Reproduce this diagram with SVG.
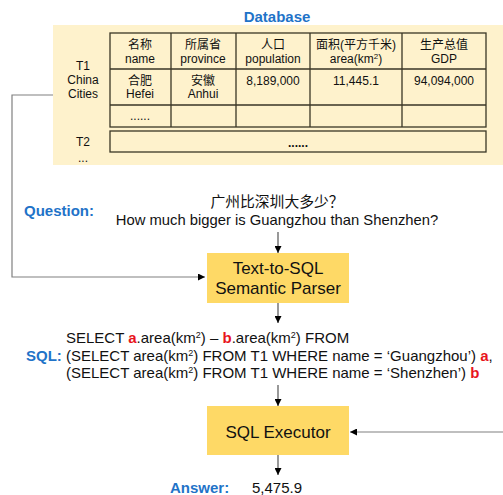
<svg xmlns="http://www.w3.org/2000/svg" width="503" height="495" viewBox="0 0 503 495">
<defs>
<marker id="ah" viewBox="0 0 10 10" refX="10" refY="5" markerWidth="7" markerHeight="7" orient="auto" markerUnits="userSpaceOnUse"><path d="M0,0 L10,5 L0,10 z" fill="#000"/></marker>
<style>
text{font-family:"Liberation Sans","Noto Sans CJK SC",sans-serif;fill:#111}
.t{font-size:12px;text-anchor:middle}
.lbl{font-size:15px;font-weight:bold;fill:#1F73C8}
.q{font-size:14.8px;text-anchor:middle}
.sql{font-size:15px}
.red{fill:#E8141C;font-weight:bold}
.box{fill:#FED966}
.grid{fill:none;stroke:#3A3626;stroke-width:1.3}
.conn{fill:none;stroke:#808080;stroke-width:1.2}
.arr{fill:none;stroke:#444;stroke-width:1.1;marker-end:url(#ah)}
.bt{font-size:17px;text-anchor:middle}
</style>
</defs>
<rect width="503" height="495" fill="#fff"/>
<g id="database">
<text class="lbl" x="277" y="22" text-anchor="middle">Database</text>
<rect x="53" y="25" width="450" height="140" fill="#FEF2CC"/>
<rect class="grid" x="110" y="33" width="376" height="94"/>
<path class="grid" d="M110,69H486M110,105H486M171,33V127M236,33V127M310,33V127M402,33V127"/>
<rect class="grid" x="110" y="131" width="376" height="21"/>
<text class="t" x="83" y="70">T1</text>
<text class="t" x="83" y="84">China</text>
<text class="t" x="83" y="98">Cities</text>
<text class="t" x="83" y="146">T2</text>
<text class="t" x="83" y="162">...</text>
<text class="t" x="140" y="49">名称</text><text class="t" x="140" y="63">name</text>
<text class="t" x="203" y="49">所属省</text><text class="t" x="203" y="63">province</text>
<text class="t" x="273" y="49">人口</text><text class="t" x="273" y="63">population</text>
<text class="t" x="356" y="49">面积(平方千米)</text><text class="t" x="356" y="63">area(km<tspan font-size="8" dy="-4">2</tspan><tspan dy="4">)</tspan></text>
<text class="t" x="444" y="49">生产总值</text><text class="t" x="444" y="63">GDP</text>
<text class="t" x="140" y="85">合肥</text><text class="t" x="140" y="98">Hefei</text>
<text class="t" x="203" y="85">安徽</text><text class="t" x="203" y="98">Anhui</text>
<text class="t" x="273" y="85">8,189,000</text>
<text class="t" x="356" y="85">11,445.1</text>
<text class="t" x="444" y="85">94,094,000</text>
<text class="t" x="140" y="120">......</text>
<text class="t" x="298" y="147" font-weight="bold">......</text>
</g>
<g id="question">
<text class="lbl" x="24" y="216">Question:</text>
<text class="q" x="277" y="207">广州比深圳大多少？</text>
<text class="q" x="277" y="225">How much bigger is Guangzhou than Shenzhen?</text>
</g>
<g id="parser">
<rect class="box" x="207" y="253" width="142" height="50"/>
<text class="bt" x="278" y="274">Text-to-SQL</text>
<text class="bt" x="278" y="294">Semantic Parser</text>
</g>
<g id="sql">
<text class="lbl" x="26" y="361">SQL:</text>
<text class="sql" x="66" y="343">SELECT <tspan class="red">a</tspan>.area(km<tspan font-size="9" dy="-5">2</tspan><tspan dy="5">) – </tspan><tspan class="red">b</tspan>.area(km<tspan font-size="9" dy="-5">2</tspan><tspan dy="5">) FROM</tspan></text>
<text class="sql" x="66" y="361">(SELECT area(km<tspan font-size="9" dy="-5">2</tspan><tspan dy="5">) FROM T1 WHERE name = ‘Guangzhou’) </tspan><tspan class="red">a</tspan>,</text>
<text class="sql" x="66" y="378">(SELECT area(km<tspan font-size="9" dy="-5">2</tspan><tspan dy="5">) FROM T1 WHERE name = ‘Shenzhen’) </tspan><tspan class="red">b</tspan></text>
</g>
<g id="executor">
<rect class="box" x="207" y="406" width="142" height="49"/>
<text class="bt" x="278" y="438">SQL Executor</text>
</g>
<g id="answer">
<text class="lbl" x="170" y="493">Answer:</text>
<text class="sql" x="252" y="493" font-size="15.5">5,475.9</text>
</g>
<g id="connectors">
<path class="conn" d="M53,95H12V277H205" marker-end="url(#ah)"/>
<path class="arr" d="M278,232V253"/>
<path class="arr" d="M278,303V323"/>
<path class="arr" d="M278,385V406"/>
<path class="arr" d="M278,455V475"/>
<path class="conn" d="M503,432H350" marker-end="url(#ah)"/>
</g>
</svg>
